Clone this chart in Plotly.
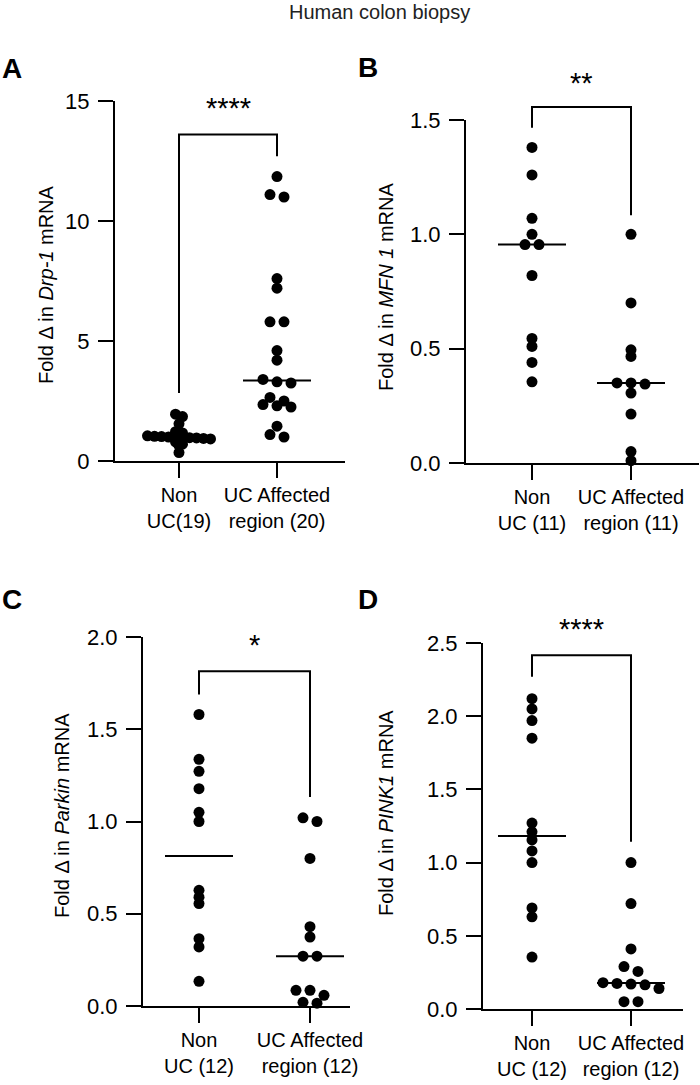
import numpy as np
import plotly.graph_objects as go

# ---------------- data ----------------
fig_title = "Human colon biopsy"
panel_letters = ["A", "B", "C", "D"]
stars = ["****", "**", "*", "****"]

y_titles = [
    "Fold Δ in <i>Drp-1</i> mRNA",
    "Fold Δ in <i>MFN 1</i> mRNA",
    "Fold Δ in <i>Parkin</i> mRNA",
    "Fold Δ in <i>PINK1</i> mRNA",
]

cats_A = ["Non<br>UC(19)", "UC Affected<br>region (20)"]
cats_B = ["Non<br>UC (11)", "UC Affected<br>region (11)"]
cats_C = ["Non<br>UC (12)", "UC Affected<br>region (12)"]
cats_D = ["Non<br>UC (12)", "UC Affected<br>region (12)"]

drp1_non = [1.95, 1.85, 1.55, 1.22, 1.17, 1.05, 1.03, 1.02, 1.0, 1.0,
            0.99, 0.97, 0.96, 0.94, 0.92, 0.8, 0.7, 0.65, 0.35]
drp1_uc = [11.85, 11.1, 11.0, 7.6, 7.2, 5.8, 5.8, 4.6, 4.2, 3.4,
           3.3, 3.25, 2.65, 2.5, 2.35, 2.3, 2.25, 1.45, 1.1, 1.0]

mfn1_non = [1.38, 1.26, 1.07, 1.0, 0.955, 0.955, 0.82, 0.545, 0.51, 0.44, 0.355]
mfn1_uc = [1.0, 0.70, 0.495, 0.466, 0.35, 0.35, 0.345, 0.306, 0.214, 0.05, 0.01]

parkin_non = [1.58, 1.337, 1.272, 1.178, 1.05, 1.0, 0.627, 0.59, 0.555, 0.365, 0.32, 0.134]
parkin_uc = [1.02, 1.0, 0.80, 0.43, 0.374, 0.27, 0.27, 0.085, 0.085, 0.058, 0.02, 0.015]

pink1_non = [2.12, 2.05, 1.97, 1.85, 1.27, 1.21, 1.155, 1.08, 1.0, 0.69, 0.63, 0.355]
pink1_uc = [1.0, 0.72, 0.41, 0.29, 0.257, 0.18, 0.175, 0.17, 0.165, 0.14, 0.05, 0.05]

yticks_A = [0, 5, 10, 15]
yticks_B = [0.0, 0.5, 1.0, 1.5]
yticks_C = [0.0, 0.5, 1.0, 1.5, 2.0]
yticks_D = [0.0, 0.5, 1.0, 1.5, 2.0, 2.5]

# ---------------- layout geometry (pixels) ----------------
W, H = 700, 1085


def pxx(px):
    return px / W


def pxy(py):
    return 1 - py / H


panels = [
    dict(non=drp1_non, uc=drp1_uc, cats=cats_A, ticks=yticks_A, fmt="d",
         left=115, right=345, top=101, bottom=461, cx=(179, 277),
         br=(13.6, 2.83, 12.7), star_py=105, ttl=(46, 285), let=(12, 68),
         swarm=[(3.5, 7.0), (6.0, 14.0)]),
    dict(non=mfn1_non, uc=mfn1_uc, cats=cats_B, ticks=yticks_B, fmt=".1f",
         left=466, right=699, top=120, bottom=463, cx=(532, 631),
         br=(1.557, 1.466, 1.084), star_py=80, ttl=(386, 286), let=(368, 67),
         swarm=[(6.0, 14.0), (6.0, 14.0)]),
    dict(non=parkin_non, uc=parkin_uc, cats=cats_C, ticks=yticks_C, fmt=".1f",
         left=143, right=350, top=637, bottom=1006, cx=(199, 310),
         br=(1.814, 1.689, 1.133), star_py=642, ttl=(62, 815), let=(12, 599),
         swarm=[(6.0, 14.0), (6.0, 14.0)]),
    dict(non=pink1_non, uc=pink1_uc, cats=cats_D, ticks=yticks_D, fmt=".1f",
         left=483, right=683, top=643, bottom=1009, cx=(532, 631),
         br=(2.417, 2.269, 1.143), star_py=626, ttl=(386, 813), let=(368, 599),
         swarm=[(6.0, 14.0), (6.0, 14.0)]),
]

FONT = "Liberation Sans, Arial, sans-serif"


def swarm_offsets(values, ypx, bin_px, step_px, xpx):
    vals = np.asarray(values, float)
    order = np.argsort(-vals, kind="stable")
    offs = np.zeros(len(vals))
    rows, cur, start = [], [], None
    for idx in order:
        if cur and (vals[start] - vals[idx]) * ypx <= bin_px:
            cur.append(idx)
        else:
            if cur:
                rows.append(cur)
            cur, start = [idx], idx
    rows.append(cur)
    for row in rows:
        n = len(row)
        for k, idx in enumerate(row):
            offs[idx] = (k - (n - 1) / 2) * step_px / xpx
    return offs


fig = go.Figure()
shapes, annotations = [], []

for i, p in enumerate(panels):
    n = i + 1
    xa = "x" if n == 1 else f"x{n}"
    ya = "y" if n == 1 else f"y{n}"
    xkey = "xaxis" if n == 1 else f"xaxis{n}"
    ykey = "yaxis" if n == 1 else f"yaxis{n}"
    y0, y1 = p["ticks"][0], p["ticks"][-1]
    xpx = p["cx"][1] - p["cx"][0]
    ypx = (p["bottom"] - p["top"]) / (y1 - y0)
    xr = [(p["left"] - p["cx"][0]) / xpx, (p["right"] - p["cx"][0]) / xpx]

    def to_paper(v, p=p, ypx=ypx, y0=y0):
        return pxy(p["bottom"] - (v - y0) * ypx)

    for g, vals in enumerate([p["non"], p["uc"]]):
        bin_px, step_px = p["swarm"][g]
        offs = swarm_offsets(vals, ypx, bin_px, step_px, xpx)
        fig.add_trace(go.Scatter(
            x=g + offs, y=vals, mode="markers", xaxis=xa, yaxis=ya,
            marker=dict(size=11, color="black"), cliponaxis=False,
            showlegend=False, hoverinfo="y"))
        med = float(np.median(vals))
        hw = 34 / xpx
        shapes.append(dict(type="line", xref=xa, yref=ya, x0=g - hw, x1=g + hw,
                           y0=med, y1=med, line=dict(color="black", width=2)))

    top, lb, rb = p["br"]
    path = (f"M0,{to_paper(lb)}L0,{to_paper(top)}L1,{to_paper(top)}L1,{to_paper(rb)}")
    shapes.append(dict(type="path", xref=xa, yref="paper", path=path,
                       line=dict(color="black", width=2)))
    annotations.append(dict(text=stars[i], xref=xa, yref="paper", x=0.5,
                            y=pxy(p["star_py"] + 3), xanchor="center", yanchor="middle",
                            showarrow=False, font=dict(size=29, color="black", family=FONT)))
    annotations.append(dict(text=y_titles[i], xref="paper", yref="paper",
                            x=pxx(p["ttl"][0]), y=pxy(p["ttl"][1]), textangle=-90,
                            xanchor="center", yanchor="middle", showarrow=False,
                            font=dict(size=20, color="black", family=FONT)))
    annotations.append(dict(text=f"<b>{panel_letters[i]}</b>", xref="paper", yref="paper",
                            x=pxx(p["let"][0]), y=pxy(p["let"][1]),
                            xanchor="center", yanchor="middle", showarrow=False,
                            font=dict(size=28, color="black", family=FONT)))

    fig.layout[xkey] = dict(
        domain=[pxx(p["left"]), pxx(p["right"])], range=xr, anchor=ya,
        showline=True, linecolor="black", linewidth=2, ticks="outside",
        ticklen=15, tickwidth=2, tickcolor="black", tickvals=[0, 1],
        ticktext=p["cats"], tickangle=0, automargin=False,
        showgrid=False, zeroline=False, fixedrange=True,
        tickfont=dict(size=20, color="black", family=FONT))
    fig.layout[ykey] = dict(
        domain=[pxy(p["bottom"]), pxy(p["top"])], range=[y0, y1], anchor=xa,
        showline=True, linecolor="black", linewidth=2, ticks="outside",
        ticklen=15, tickwidth=2, tickcolor="black", tickvals=p["ticks"],
        tickformat=p["fmt"], automargin=False, ticklabelstandoff=4,
        showgrid=False, zeroline=False, fixedrange=True,
        tickfont=dict(size=22, color="black", family=FONT))

annotations.append(dict(text=fig_title, xref="paper", yref="paper", x=pxx(379), y=pxy(12),
                        xanchor="center", yanchor="middle", showarrow=False,
                        font=dict(size=20, color="#222222", family=FONT)))

fig.update_layout(width=W, height=H, margin=dict(l=0, r=0, t=0, b=0, autoexpand=False),
                  paper_bgcolor="white", plot_bgcolor="white",
                  shapes=shapes, annotations=annotations, showlegend=False)

fig.write_html("out.html")
